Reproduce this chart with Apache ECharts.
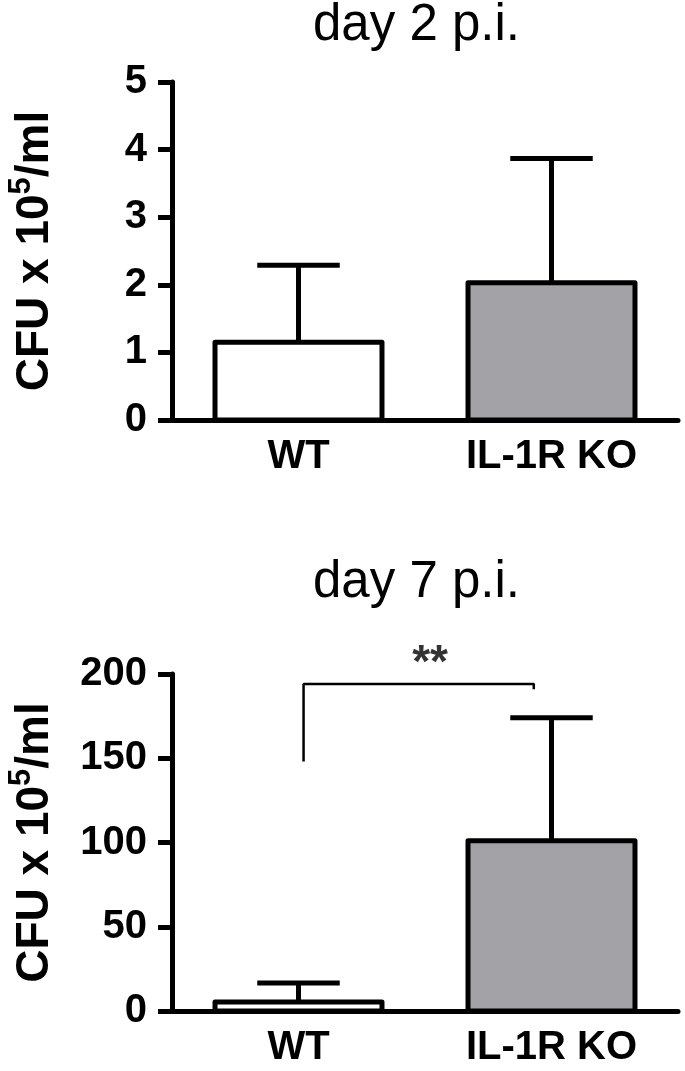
<!DOCTYPE html>
<html>
<head>
<meta charset="utf-8">
<style>
html, body { margin: 0; padding: 0; background: #fff; }
#chart { width: 685px; height: 1071px; }
</style>
<script src="https://cdn.jsdelivr.net/npm/echarts@6/dist/echarts.min.js"></script>
</head>
<body>
<div id="chart"></div>
<script>
// groups
const groups = ['WT', 'IL-1R KO']
// day 2 p.i. (CFU x 10^5/ml), mean and mean + SD
const day2Mean = [1.15, 2.03]
const day2Upper = [2.29, 3.87]
// day 7 p.i.
const day7Mean = [5.3, 101]
const day7Upper = [16.6, 174]
// significance bracket (x in group units, 0..2)
const bracketX = [0.52, 0.52, 1.43, 1.43]
const bracketY = [148, 194, 194, 191]
const starsAt = [1.02, 194]

const FONT = 'Liberation Sans, Arial, sans-serif'
const barColors = ['#ffffff', '#a3a2a7']

function barData (mean, upper) {
  return mean.map((m, i) => [i, m, upper[i]])
}

// bar with centred outline + upper error bar
function renderBar (params, api) {
  const i = api.value(0)
  const zero = api.coord([i, 0])
  const base = api.coord([i, api.value(1)])
  const top = api.coord([i, api.value(2)])
  const band = api.size([1, 0])[0]
  const w = band * 0.66
  const half = band * 0.163
  const line = { stroke: '#000', lineWidth: 5 }
  return {
    type: 'group',
    children: [
      { type: 'line', shape: { x1: base[0], y1: base[1], x2: top[0], y2: top[1] }, style: line },
      { type: 'line', shape: { x1: top[0] - half, y1: top[1], x2: top[0] + half, y2: top[1] }, style: line },
      {
        type: 'rect',
        shape: { x: zero[0] - w / 2, y: base[1], width: w, height: zero[1] - base[1] },
        style: { fill: barColors[i], stroke: '#000', lineWidth: 5, lineJoin: 'round' }
      }
    ]
  }
}

const yName = {
  name: '{a|CFU x 10}{s|5}{a|/ml}',
  nameLocation: 'middle',
  nameGap: 108,
  nameTextStyle: {
    rich: {
      a: { fontFamily: FONT, fontWeight: 'bold', fontSize: 46, color: '#000', lineHeight: 58 },
      s: { fontFamily: FONT, fontWeight: 'bold', fontSize: 31, color: '#000', lineHeight: 58, verticalAlign: 'top' }
    }
  }
}

function yAxis (gridIndex, max, interval) {
  return Object.assign({
    type: 'value',
    gridIndex: gridIndex,
    min: 0,
    max: max,
    interval: interval,
    splitLine: { show: false },
    axisLine: { show: true, lineStyle: { color: '#000', width: 5 } },
    axisTick: { show: true, length: 14, lineStyle: { color: '#000', width: 5 } },
    axisLabel: { fontFamily: FONT, fontWeight: 'bold', fontSize: 40, color: '#000', margin: 25 }
  }, yName)
}

function xAxis (gridIndex) {
  return {
    type: 'category',
    gridIndex: gridIndex,
    data: groups,
    axisLine: { show: true, lineStyle: { color: '#000', width: 5 } },
    axisTick: { show: false },
    axisLabel: { fontFamily: FONT, fontWeight: 'bold', fontSize: 40, color: '#000', margin: 17 },
    z: 5
  }
}

const chart = echarts.init(document.getElementById('chart'), null, { renderer: 'canvas' })
chart.setOption({
  animation: false,
  backgroundColor: '#fff',
  title: [
    { text: 'day 2 p.i.', left: 313, top: 0, padding: 0, textStyle: { fontFamily: FONT, fontWeight: 'normal', fontSize: 51, color: '#000' } },
    { text: 'day 7 p.i.', left: 313, top: 557, padding: 0, textStyle: { fontFamily: FONT, fontWeight: 'normal', fontSize: 51, color: '#000' } }
  ],
  grid: [
    { left: 172, right: 7, top: 82, bottom: 651, outerBoundsMode: 'none', containLabel: false },
    { left: 172, right: 7, top: 674, bottom: 60, outerBoundsMode: 'none', containLabel: false }
  ],
  xAxis: [
    xAxis(0),
    xAxis(1),
    { type: 'value', gridIndex: 1, min: 0, max: 2, show: false }
  ],
  yAxis: [
    yAxis(0, 5, 1),
    yAxis(1, 200, 50)
  ],
  series: [
    {
      type: 'custom', xAxisIndex: 0, yAxisIndex: 0, renderItem: renderBar,
      data: barData(day2Mean, day2Upper), z: 2
    },
    {
      type: 'custom', xAxisIndex: 1, yAxisIndex: 1, renderItem: renderBar,
      data: barData(day7Mean, day7Upper), z: 2
    },
    {
      type: 'line', xAxisIndex: 2, yAxisIndex: 1, symbol: 'none',
      lineStyle: { color: '#000', width: 2.5 },
      data: bracketX.map((x, i) => [x, bracketY[i]])
    },
    {
      type: 'scatter', xAxisIndex: 2, yAxisIndex: 1, symbolSize: 1,
      itemStyle: { color: 'rgba(0,0,0,0)' },
      label: { show: true, position: 'top', distance: -4, formatter: '**', fontFamily: FONT, fontWeight: 'bold', fontSize: 46, color: '#000' },
      data: [starsAt]
    }
  ]
})
</script>
</body>
</html>
